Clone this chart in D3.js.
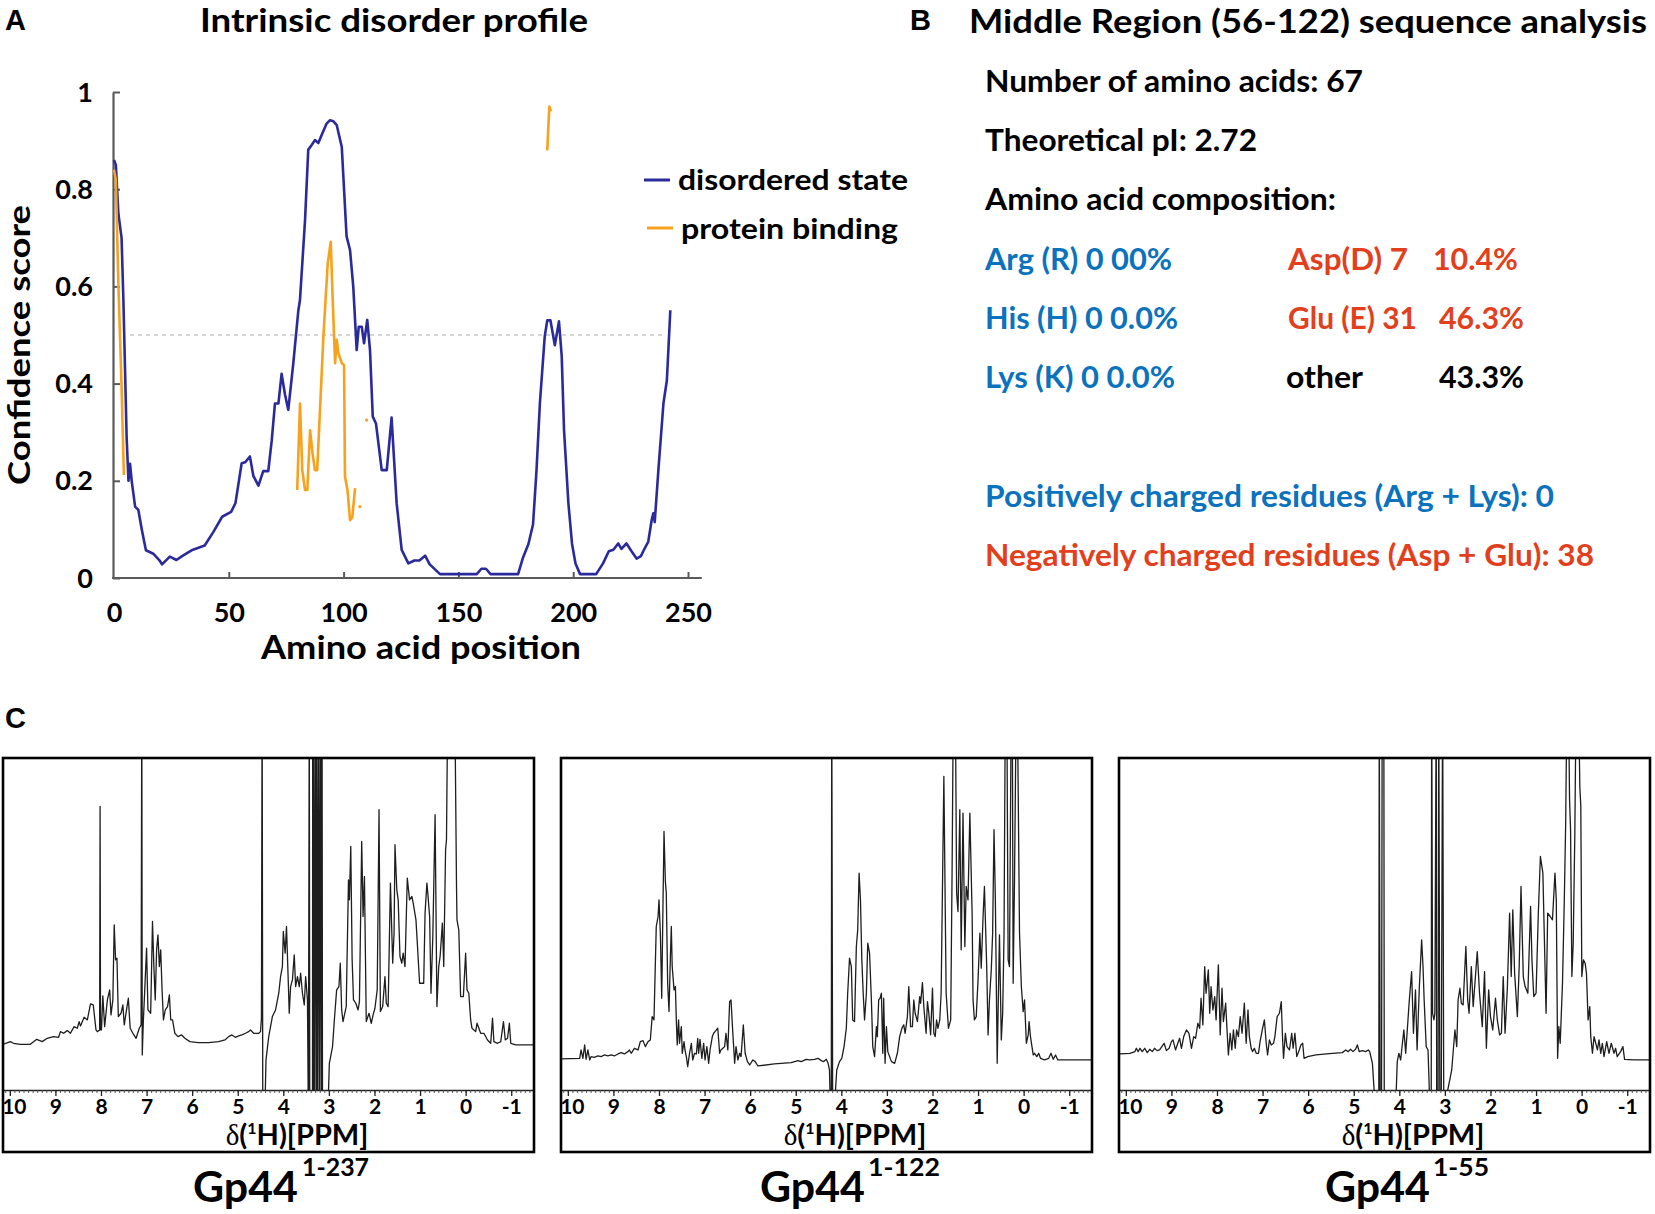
<!DOCTYPE html>
<html>
<head>
<meta charset="utf-8">
<script src="https://cdn.jsdelivr.net/npm/d3@7"></script>
<style>
  body { margin: 0; background: #fff; }
  svg { display: block; }
</style>
</head>
<body>
<svg id="fig" width="1655" height="1214"></svg>
<script>
// ---------------- DATA ----------------
// Panel A: intrinsic disorder profile
const aminoTicks = [0, 50, 100, 150, 200, 250];
const scoreTicks = [0, 0.2, 0.4, 0.6, 0.8, 1];
const threshold = [[7, 0.5], [239, 0.5]];

const disorderedState = [
  [0,0.86],[0.8,0.85],[1.9,0.75],[3.3,0.70],[4.1,0.57],[4.8,0.43],[5.5,0.29],[6.3,0.20],[7,0.235],[7.7,0.20],
  [9.2,0.147],[10.6,0.14],[12.1,0.10],[13.9,0.057],[17.1,0.05],[20,0.035],[20.9,0.028],[24.3,0.044],[27.2,0.037],
  [30,0.046],[33.8,0.057],[39.5,0.067],[43.3,0.095],[47.1,0.126],[51,0.136],[52.9,0.154],[55.6,0.236],[57.1,0.238],
  [59.2,0.25],[60.7,0.21],[62.9,0.19],[65.0,0.22],[67.2,0.22],[68.7,0.283],[70.1,0.359],[71.6,0.359],[73.0,0.42],
  [74.5,0.377],[75.9,0.346],[78.1,0.442],[80.3,0.551],[81.0,0.572],[83.2,0.736],[84.6,0.881],[86.1,0.891],
  [87.5,0.901],[89.0,0.895],[90.4,0.911],[92.6,0.935],[94.1,0.942],[95.5,0.94],[97.0,0.932],[99.2,0.887],
  [101.3,0.703],[102.8,0.675],[104.2,0.6],[105.7,0.469],[106.6,0.517],[107.9,0.517],[108.9,0.483],[110.3,0.531],
  [111.5,0.469],[112.7,0.332],[114.1,0.318],[116.6,0.222],[118.8,0.222],[120.9,0.330],[123.1,0.154],[125.3,0.058],
  [128.2,0.030],[130.8,0.036],[133,0.036],[135.5,0.046],[137.5,0.028],[142,0.008],[150,0.008],[158,0.008],
  [160,0.019],[162,0.019],[164,0.008],[176,0.008],[178,0.04],[180.5,0.07],[182.5,0.11],[184,0.22],[185.5,0.36],
  [187.6,0.497],[188.7,0.530],[190.1,0.530],[192,0.479],[193.8,0.528],[195,0.456],[196,0.305],[197.9,0.154],
  [199.5,0.07],[201,0.03],[203,0.008],[210,0.008],[213,0.03],[215.5,0.055],[217.5,0.058],[219.6,0.071],[221,0.06],
  [223.2,0.071],[225.4,0.055],[227.6,0.04],[229.5,0.045],[230.5,0.055],[232.7,0.075],[234.2,0.12],[234.9,0.133],
  [235.5,0.115],[237.1,0.222],[239.3,0.359],[240.8,0.407],[242.3,0.551]
];

const proteinBinding = [
  [0,0.84],[0.8,0.82],[1.9,0.606],[3.3,0.394],[4.3,0.212],
  null,
  [79.8,0.181],[81,0.359],[82,0.222],[83.2,0.181],[84.2,0.181],[85.4,0.304],[86.5,0.256],[87.5,0.222],[88.5,0.222],
  [91.2,0.497],[93.1,0.648],[94.4,0.692],[95.2,0.579],[96.3,0.442],[97,0.49],[97.7,0.463],[99.2,0.442],
  [100.2,0.438],[100.6,0.209],[101.7,0.181],[102.8,0.119],[103.8,0.125],[105,0.185],
  null,
  [188.7,0.88],[189.6,0.97],[190.3,0.96]
];
const bindingDots = [[107.1,0.147],[110,0.325]];

// Panel B: sequence analysis
const seqTitle = "Middle Region (56-122) sequence analysis";
const seqStats = ["Number of amino acids: 67", "Theoretical pI: 2.72", "Amino acid composition:"];
const basicResidues = ["Arg (R) 0 00%", "His (H) 0 0.0%", "Lys (K) 0 0.0%"];
const acidicNames = ["Asp(D) 7", "Glu (E) 31", "other"];
const acidicPercents = ["10.4%", "46.3%", "43.3%"];
const chargeSummary = ["Positively charged residues (Arg + Lys): 0", "Negatively charged residues (Asp + Glu): 38"];

// Panel C: 1H NMR spectra (ppm, relative intensity; >99.5 is off-scale, <0 below axis)
const ppmTicks = [10, 9, 8, 7, 6, 5, 4, 3, 2, 1, 0, -1];
const constructNames = ["1-237", "1-122", "1-55"];

const spectrum1to237 = [
  [10.18,13.5],[9.99,14.5],[9.92,14],[9.77,13.7],[9.55,13.7],[9.41,15.2],[9.29,14.5],[9.18,15.5],[9.04,16],[8.93,15.8],
  [8.89,17.5],[8.82,17],[8.74,17.8],[8.67,17],[8.59,19],[8.52,18.5],[8.48,20.5],[8.45,19.2],[8.37,21.8],[8.30,21],
  [8.23,25.8],[8.17,25.5],[8.11,18],[8.08,17.5],[8.03,18],[8.02,85],[8.01,18],[7.99,18],[7.96,28.2],[7.92,19],
  [7.86,27],[7.81,30],[7.78,22.5],[7.74,27],[7.71,49.5],[7.68,39],[7.65,39.5],[7.62,22],[7.56,23],[7.52,25.5],
  [7.49,19.5],[7.44,24],[7.40,27.5],[7.36,18.5],[7.30,17],[7.23,15.5],[7.16,18.5],[7.12,19.5],[7.105,120],[7.095,10.5],
  [7.07,21],[7.05,27],[7.00,42.5],[6.97,24],[6.91,23],[6.87,50.5],[6.84,37],[6.81,27],[6.78,42],[6.75,46.5],
  [6.72,37],[6.69,42],[6.66,30],[6.63,21],[6.59,24],[6.54,25],[6.50,28.5],[6.47,21],[6.43,21],[6.38,17],
  [6.31,16],[6.23,16.5],[6.16,15.5],[6.05,14.5],[5.87,14.2],[5.64,14.2],[5.42,14.5],[5.28,15],[5.20,16],[5.13,16.5],
  [5.05,15.8],[4.98,16.2],[4.91,16.5],[4.83,17],[4.76,17.5],[4.72,18],[4.65,17],[4.54,17],[4.50,17.5],[4.48,21.5],
  [4.465,120],[4.45,-10],[4.41,-10],[4.38,9],[4.32,16],[4.24,22],[4.17,24],[4.10,29],[4.06,34],[4.02,37],
  [4.00,47.5],[3.96,41],[3.93,49],[3.89,32],[3.87,23],[3.84,31],[3.80,33],[3.76,40.5],[3.73,31],[3.69,34],
  [3.65,31],[3.62,35],[3.58,29],[3.54,25.5],[3.51,34],[3.47,27],[3.45,-10],[3.43,120],[3.42,-10],[3.36,-10],
  [3.355,120],[3.35,-10],[3.33,120],[3.32,-10],[3.29,120],[3.28,-10],[3.26,120],[3.25,-10],[3.22,120],[3.21,-10],
  [3.18,120],[3.17,-10],[3.15,120],[3.14,-10],[3.03,-10],[2.99,8],[2.92,13],[2.88,21],[2.83,30],[2.78,31],
  [2.75,38],[2.72,24],[2.69,20.5],[2.62,25],[2.57,63],[2.55,57],[2.52,73],[2.49,39],[2.46,27],[2.41,26],
  [2.36,24],[2.33,26.5],[2.28,74.5],[2.25,52],[2.22,64],[2.18,20.5],[2.12,23],[2.07,20],[2.03,22.5],[1.99,24.5],
  [1.94,30],[1.90,84],[1.87,23.5],[1.82,25],[1.77,34],[1.74,26],[1.70,25],[1.65,62],[1.60,38],[1.57,47],
  [1.55,73.5],[1.51,60],[1.48,57],[1.44,40],[1.40,38],[1.37,41],[1.33,37],[1.28,63.5],[1.23,57],[1.18,58],
  [1.15,56],[1.09,51],[1.06,44],[1.01,32],[0.96,32],[0.92,32],[0.89,53],[0.85,62],[0.83,59],[0.79,52],
  [0.76,29],[0.72,46],[0.67,82.5],[0.63,25],[0.59,37],[0.56,40],[0.51,50],[0.48,37],[0.44,72],[0.42,75],
  [0.39,120],[0.24,120],[0.20,61],[0.19,51],[0.15,48],[0.11,28],[0.05,28],[0.00,41],[-0.03,30],[-0.07,29],
  [-0.11,21],[-0.14,18.5],[-0.22,17.5],[-0.25,20],[-0.33,17],[-0.40,17],[-0.48,15],[-0.55,14],[-0.59,21.5],[-0.62,14.5],
  [-0.70,14],[-0.77,14.5],[-0.83,20.5],[-0.87,15],[-0.92,15.5],[-0.96,20],[-0.99,14],[-1.10,13.5],[-1.55,13.5]
];

const spectrum1to122 = [
  [10.15,9.3],[9.74,9.5],[9.71,12],[9.67,9.5],[9.63,13.5],[9.60,9.2],[9.56,12],[9.52,9],[9.49,10],[9.42,9.8],
  [9.34,10.2],[9.27,10],[9.20,10.5],[9.12,10.2],[9.05,10.5],[8.98,10.2],[8.90,10.8],[8.83,11.2],[8.76,10.8],[8.68,11.5],
  [8.65,12],[8.61,11],[8.54,12.5],[8.46,12],[8.41,14.5],[8.35,14.8],[8.30,13],[8.24,14.5],[8.19,15],[8.15,22],
  [8.11,21],[8.06,49],[8.02,52],[8.00,57],[7.97,47],[7.94,27.5],[7.92,48],[7.89,77.5],[7.86,62.5],[7.84,59],
  [7.81,32],[7.78,23.5],[7.75,40],[7.73,49],[7.71,37],[7.67,30],[7.64,31],[7.62,21],[7.60,13.5],[7.57,21],
  [7.55,14],[7.51,19],[7.49,11],[7.45,14.5],[7.43,12],[7.40,10],[7.37,7],[7.33,11],[7.29,14],[7.26,9],
  [7.22,11],[7.18,10.8],[7.15,15.5],[7.13,11],[7.10,15.2],[7.06,9.5],[7.02,14],[6.99,9],[6.95,13],[6.91,8],
  [6.88,12],[6.83,16],[6.80,17],[6.77,17.5],[6.74,18],[6.71,18.5],[6.67,11],[6.64,12],[6.60,12.5],[6.56,13],
  [6.53,17],[6.49,12],[6.45,26.5],[6.42,27],[6.38,17],[6.34,8],[6.31,13],[6.27,9],[6.23,11],[6.20,10],
  [6.15,19.5],[6.11,11],[6.06,8.5],[6.01,7.5],[5.94,9],[5.89,8.5],[5.83,7.2],[5.47,7.8],[5.10,8.2],[4.95,8.8],
  [4.88,8.5],[4.77,9.2],[4.70,9],[4.59,9.2],[4.51,9.5],[4.44,8.8],[4.39,8.5],[4.33,9.2],[4.29,8],[4.26,6],
  [4.24,-5],[4.22,-5],[4.21,120],[4.19,-5],[4.15,-5],[4.10,6],[4.04,8.5],[3.99,9.5],[3.94,13],[3.89,18.5],
  [3.86,29],[3.82,39.5],[3.78,37],[3.75,21],[3.71,20.5],[3.67,43],[3.64,48],[3.61,65],[3.58,57],[3.55,39],
  [3.52,29],[3.49,21],[3.45,29],[3.42,44],[3.38,41],[3.34,27],[3.31,13],[3.27,10],[3.23,19],[3.21,16],
  [3.18,27],[3.15,27.5],[3.12,29],[3.09,11],[3.07,27.5],[3.04,8],[3.01,19],[2.98,11.5],[2.90,8.5],[2.83,8],
  [2.77,11],[2.72,16],[2.67,18.5],[2.63,19.5],[2.60,17],[2.55,22],[2.52,31],[2.48,19],[2.44,19],[2.41,27],
  [2.38,23],[2.33,20.5],[2.28,28],[2.26,26],[2.22,32.2],[2.19,25],[2.14,17],[2.11,26.5],[2.08,23],[2.04,16.5],
  [2.00,30.5],[1.97,17],[1.94,16],[1.91,21],[1.88,18.5],[1.84,21],[1.81,29],[1.75,94],[1.70,29],[1.65,18.5],
  [1.60,21],[1.57,65],[1.54,120],[1.50,120],[1.47,59],[1.44,53.5],[1.40,84],[1.37,42],[1.33,83],[1.29,43],
  [1.26,61],[1.22,57],[1.18,83],[1.13,53],[1.11,27],[1.08,21],[1.04,22],[1.00,33],[0.96,47],[0.93,36.5],
  [0.89,52],[0.86,61],[0.81,37],[0.78,16.5],[0.75,27],[0.71,36],[0.68,47],[0.65,78],[0.62,57],[0.58,8],
  [0.53,46.5],[0.49,15],[0.46,23],[0.43,46.5],[0.40,120],[0.37,120],[0.34,39],[0.31,37],[0.27,120],[0.25,120],
  [0.23,32],[0.20,63],[0.16,120],[0.14,120],[0.09,47],[0.05,31],[0.01,23.5],[-0.02,27],[-0.06,14],[-0.10,16.5],
  [-0.12,20.5],[-0.15,16],[-0.21,10.5],[-0.24,11],[-0.29,10],[-0.33,11],[-0.37,9.5],[-0.46,9],[-0.55,9.5],[-0.60,11],
  [-0.65,9.2],[-0.70,10.5],[-0.75,9],[-1.00,9],[-1.55,9]
];

const spectrum1to55 = [
  [10.13,10.8],[9.91,11],[9.80,11.5],[9.77,12.5],[9.73,11.5],[9.69,12.5],[9.64,11.5],[9.585,12.5],[9.53,11.2],[9.475,12.2],
  [9.42,11.5],[9.37,12.5],[9.315,11.8],[9.26,12],[9.21,13],[9.16,14],[9.11,11.8],[9.05,12.5],[9.00,14.5],[8.965,15],
  [8.91,12],[8.86,14],[8.82,15.5],[8.78,12.5],[8.73,16],[8.67,18],[8.615,17],[8.56,12.5],[8.51,16],[8.47,15.5],
  [8.42,20],[8.38,18.5],[8.35,27.5],[8.31,19.5],[8.27,37],[8.24,29],[8.19,36],[8.16,23],[8.13,31],[8.09,24],
  [8.05,28],[8.02,21],[7.97,37.5],[7.93,16.5],[7.89,30.5],[7.86,20.5],[7.81,26],[7.78,18],[7.75,10.5],[7.71,17],
  [7.675,12],[7.64,18],[7.60,12.5],[7.57,18],[7.53,16],[7.49,22],[7.45,17],[7.40,26],[7.36,14],[7.32,24],
  [7.29,16],[7.25,12.5],[7.22,11.5],[7.18,12.5],[7.14,11],[7.09,11],[7.055,14.5],[7.00,18.5],[6.96,21],[6.92,14],
  [6.89,10.5],[6.85,15],[6.81,13.5],[6.76,14],[6.73,16],[6.68,22],[6.63,23],[6.59,26.5],[6.56,15],[6.54,9.5],
  [6.50,17],[6.465,13],[6.41,12],[6.36,17],[6.33,12.5],[6.29,17],[6.25,10],[6.195,12],[6.16,13.5],[6.12,14],
  [6.09,9.5],[6.01,10],[5.83,10.5],[5.47,11],[5.25,11.2],[5.175,12],[5.12,11.5],[5.07,12.2],[5.015,11.5],[4.96,12.2],
  [4.92,13.5],[4.88,11.5],[4.81,11.8],[4.74,11.5],[4.68,12],[4.65,11.5],[4.59,8],[4.53,-5],[4.45,-5],[4.44,120],
  [4.42,-5],[4.39,-5],[4.375,120],[4.34,120],[4.33,-5],[4.08,-5],[4.045,8.5],[4.01,11],[3.97,9],[3.94,13],
  [3.90,18],[3.86,11],[3.83,17],[3.78,27],[3.73,35.5],[3.69,17],[3.645,30],[3.61,12],[3.56,31],[3.51,45],
  [3.48,37],[3.455,27],[3.41,13],[3.37,12],[3.33,-5],[3.30,-5],[3.29,120],[3.27,23],[3.24,21],[3.22,23],
  [3.19,120],[3.18,-5],[3.15,-5],[3.135,120],[3.11,-5],[3.08,-5],[3.05,120],[3.025,-5],[2.93,0.5],[2.85,6],
  [2.78,18],[2.74,13],[2.71,27],[2.67,30.5],[2.64,26],[2.60,25.5],[2.54,43],[2.50,27],[2.47,23],[2.42,37],
  [2.38,25],[2.33,34],[2.29,41.5],[2.24,29],[2.18,19],[2.13,35.5],[2.09,12.5],[2.04,30],[2.00,22],[1.95,18],
  [1.89,27.5],[1.85,21],[1.80,16.5],[1.76,17],[1.72,34],[1.68,17],[1.63,30.5],[1.58,53],[1.545,34],[1.51,54],
  [1.47,35],[1.41,22],[1.37,37],[1.33,61],[1.28,34],[1.24,31],[1.18,29],[1.12,55],[1.09,39],[1.05,28],
  [1.00,29],[0.95,53],[0.905,70],[0.85,65],[0.82,47],[0.78,23],[0.745,53],[0.69,52],[0.64,51],[0.585,65],
  [0.556,57],[0.527,9.5],[0.50,19],[0.47,14],[0.42,32],[0.38,57],[0.35,80],[0.32,120],[0.29,120],[0.265,87],
  [0.243,78],[0.214,34],[0.185,44],[0.149,77],[0.12,120],[0.069,120],[0.04,91],[0.018,85],[-0.004,34],[-0.04,39],
  [-0.077,38],[-0.106,35],[-0.142,21],[-0.179,25],[-0.20,16],[-0.237,11],[-0.273,16],[-0.31,14],[-0.346,12],[-0.382,15],
  [-0.419,11],[-0.455,14],[-0.491,10],[-0.55,14.5],[-0.60,11],[-0.65,14],[-0.71,11],[-0.746,12.5],[-0.78,10],[-0.855,11.5],
  [-0.906,13],[-0.942,9.2],[-1.146,9],[-1.51,9]
];

// ---------------- DRAWING ----------------
const SANS = "Lato, 'Open Sans', 'DejaVu Sans', sans-serif";
const ARIAL = "'Liberation Sans', Arial, sans-serif";
const SERIF = "'Liberation Serif', 'DejaVu Serif', serif";
const svg = d3.select("#fig");
svg.append("rect").attr("width", 1655).attr("height", 1214).attr("fill", "#fff");

function label(parent, o) {
  const t = parent.append("text")
    .attr("x", o.x).attr("y", o.y)
    .attr("font-family", o.family || SANS)
    .attr("font-size", o.size)
    .attr("font-weight", o.weight || "bold")
    .attr("fill", o.fill || "#000")
    .attr("text-anchor", o.anchor || "start")
    .text(o.text);
  if (o.width) t.attr("textLength", o.width).attr("lengthAdjust", "spacingAndGlyphs");
  if (o.transform) t.attr("transform", o.transform);
  return t;
}

// ===== Panel A =====
const gA = svg.append("g");
const xA = d3.scaleLinear().domain([0, 250]).range([114, 688]);
const yA = d3.scaleLinear().domain([0, 1]).range([578, 92]);
const AX = "#5a5a5a";

label(gA, {x: 5, y: 30, text: "A", size: 29, family: ARIAL});
label(gA, {x: 394, y: 32, text: "Intrinsic disorder profile", size: 33, anchor: "middle", width: 388});

// threshold
gA.append("path").datum(threshold)
  .attr("d", d3.line().x(d => xA(d[0])).y(d => yA(d[1])))
  .attr("stroke", "#c8c8c8").attr("stroke-width", 1.5).attr("stroke-dasharray", "4,4").attr("fill", "none");

// y axis
const yAxisA = gA.append("g").attr("transform", `translate(${xA(0) - 1},0)`)
  .call(d3.axisLeft(yA).tickValues(scoreTicks).tickSize(-7).tickSizeOuter(0).tickPadding(20).tickFormat(d3.format("~g")));
yAxisA.select(".domain").attr("stroke", AX).attr("stroke-width", 2.2);
yAxisA.selectAll(".tick line").attr("stroke", AX).attr("stroke-width", 2);
yAxisA.selectAll(".tick text").attr("font-family", SANS).attr("font-weight", "bold").attr("font-size", 27).attr("fill", "#000").attr("dy", "0.34em");

// x axis
const xAxisA = gA.append("g").attr("transform", `translate(0,${yA(0)})`)
  .call(d3.axisBottom(xA).tickValues(aminoTicks).tickSize(-6).tickSizeOuter(0).tickFormat(d3.format("d")));
xAxisA.select(".domain").remove();
xAxisA.selectAll(".tick line").attr("stroke", AX).attr("stroke-width", 2);
xAxisA.selectAll(".tick").filter(d => d === 0).select("line").remove();
xAxisA.selectAll(".tick text").attr("font-family", SANS).attr("font-weight", "bold").attr("font-size", 27).attr("fill", "#000").attr("y", 44).attr("dy", 0);
gA.append("line").attr("x1", xA(0) - 2).attr("x2", xA(256)).attr("y1", yA(0)).attr("y2", yA(0)).attr("stroke", AX).attr("stroke-width", 2.2);

// lines
const lineA = d3.line().defined(d => d !== null).x(d => xA(d[0])).y(d => yA(d[1]));
gA.append("path").datum(disorderedState).attr("d", lineA)
  .attr("fill", "none").attr("stroke", "#2a2a9c").attr("stroke-width", 2.6).attr("stroke-linejoin", "round");
gA.append("path").datum(proteinBinding).attr("d", lineA)
  .attr("fill", "none").attr("stroke", "#f7a11c").attr("stroke-width", 2.6).attr("stroke-linejoin", "round");
gA.selectAll("circle.dot").data(bindingDots).join("circle").attr("class", "dot")
  .attr("cx", d => xA(d[0])).attr("cy", d => yA(d[1])).attr("r", 1.6).attr("fill", "#f7a11c");

// axis titles
label(gA, {x: 30, y: 345, text: "Confidence score", size: 31, anchor: "middle", width: 280, transform: "rotate(-90,30,345)"});
label(gA, {x: 421, y: 659, text: "Amino acid position", size: 33, anchor: "middle", width: 320});

// legend
const legendItems = [
  {name: "disordered state", color: "#2a2a9c"},
  {name: "protein binding", color: "#f7a11c"}
];
const legendLayout = [{lx: 644, ly: 180, tx: 678, ty: 190, w: 230}, {lx: 647, ly: 228, tx: 681, ty: 239, w: 217}];
legendItems.forEach((it, i) => {
  const L = legendLayout[i];
  gA.append("line").attr("x1", L.lx).attr("x2", L.lx + 26).attr("y1", L.ly).attr("y2", L.ly)
    .attr("stroke", it.color).attr("stroke-width", 3);
  label(gA, {x: L.tx, y: L.ty, text: it.name, size: 29, width: L.w});
});

// ===== Panel B =====
const gB = svg.append("g");
const BLUE = "#0b72bd", RED = "#e2401d";
label(gB, {x: 910, y: 30, text: "B", size: 29, family: ARIAL});
label(gB, {x: 969, y: 33, text: seqTitle, size: 33, width: 678});
const statY = [92, 151, 210], statW = [378, 272, 351];
seqStats.forEach((s, i) => label(gB, {x: 985, y: statY[i], text: s, size: 30, width: statW[i]}));
const rowY = [270, 329, 388];
const basicW = [187, 193, 190];
basicResidues.forEach((s, i) => label(gB, {x: 985, y: rowY[i], text: s, size: 30, fill: BLUE, width: basicW[i]}));
const acidNameX = [1288, 1288, 1286], acidNameW = [120, 129, 77];
const acidPctX = [1433, 1439, 1439];
acidicNames.forEach((s, i) => label(gB, {x: acidNameX[i], y: rowY[i], text: s, size: 30, fill: i < 2 ? RED : "#000", width: acidNameW[i]}));
acidicPercents.forEach((s, i) => label(gB, {x: acidPctX[i], y: rowY[i], text: s, size: 30, fill: i < 2 ? RED : "#000", width: 85}));
const chargeY = [507, 566], chargeW = [569, 609];
chargeSummary.forEach((s, i) => label(gB, {x: 985, y: chargeY[i], text: s, size: 30, fill: i === 0 ? BLUE : RED, width: chargeW[i]}));

// ===== Panel C =====
const gC = svg.append("g");
label(gC, {x: 5, y: 728, text: "C", size: 29, family: ARIAL});
const spectra = [spectrum1to237, spectrum1to122, spectrum1to55];
const boxX = [3, 561, 1119];
const BOX_W = 531, TOP = 758, AXIS_Y = 1090, BOTTOM = 1152;
const subLayout = [{g: 190, s: 299, w: 67}, {g: 199, s: 307, w: 72}, {g: 206, s: 314, w: 56}];

spectra.forEach((data, i) => {
  const bx = boxX[i];
  const x = d3.scaleLinear().domain([10.15, -1.5]).range([bx, bx + BOX_W]);
  const y = d3.scaleLinear().domain([0, 99.5]).range([AXIS_Y, TOP]);
  const cid = "clip" + i;
  svg.append("clipPath").attr("id", cid).append("rect")
    .attr("x", bx).attr("y", TOP).attr("width", BOX_W).attr("height", AXIS_Y - TOP);
  const g = gC.append("g");
  g.append("path").datum(data).attr("clip-path", `url(#${cid})`)
    .attr("d", d3.line().x(d => x(d[0])).y(d => y(d[1])))
    .attr("fill", "none").attr("stroke", "#1e1e1e").attr("stroke-width", 1.3).attr("stroke-linejoin", "round");

  // minor ticks
  const minor = g.append("g").attr("transform", `translate(0,${AXIS_Y})`)
    .call(d3.axisBottom(x).tickValues(x.ticks(120)).tickSize(3).tickSizeOuter(0).tickFormat(""));
  minor.select(".domain").attr("stroke", "#222").attr("stroke-width", 1.5);
  minor.selectAll(".tick line").attr("stroke", "#444").attr("stroke-width", 0.9);
  // major ticks
  const major = g.append("g").attr("transform", `translate(0,${AXIS_Y})`)
    .call(d3.axisBottom(x).tickValues(ppmTicks).tickSize(6).tickSizeOuter(0).tickFormat(d => String(d)));
  major.select(".domain").remove();
  major.selectAll(".tick line").attr("stroke", "#222").attr("stroke-width", 1.3);
  major.selectAll(".tick text").attr("font-family", SANS).attr("font-weight", "bold").attr("font-size", 21)
    .attr("fill", "#000").attr("y", 24).attr("dy", 0)
    .attr("dx", d => d === 10 ? 4 : 0);

  // x label δ(1H)[PPM]
  const xl = g.append("text").attr("x", bx + 294).attr("y", 1145).attr("text-anchor", "middle")
    .attr("font-size", 29).attr("fill", "#000");
  xl.append("tspan").attr("font-family", SERIF).attr("font-weight", "normal").text("δ");
  xl.append("tspan").attr("font-family", SANS).attr("font-weight", "bold").text("(");
  xl.append("tspan").attr("font-family", SANS).attr("font-weight", "bold").attr("font-size", 16).attr("dy", -11).text("1");
  xl.append("tspan").attr("font-family", SANS).attr("font-weight", "bold").attr("dy", 11).text("H)[PPM]");

  // box
  g.append("rect").attr("x", bx).attr("y", TOP).attr("width", BOX_W).attr("height", BOTTOM - TOP)
    .attr("fill", "none").attr("stroke", "#000").attr("stroke-width", 2.6);

  // construct label
  const L = subLayout[i];
  label(g, {x: bx + L.g, y: 1202, text: "Gp44", size: 42, width: 105});
  label(g, {x: bx + L.s, y: 1176, text: constructNames[i], size: 25, width: L.w});
});
</script>
</body>
</html>
